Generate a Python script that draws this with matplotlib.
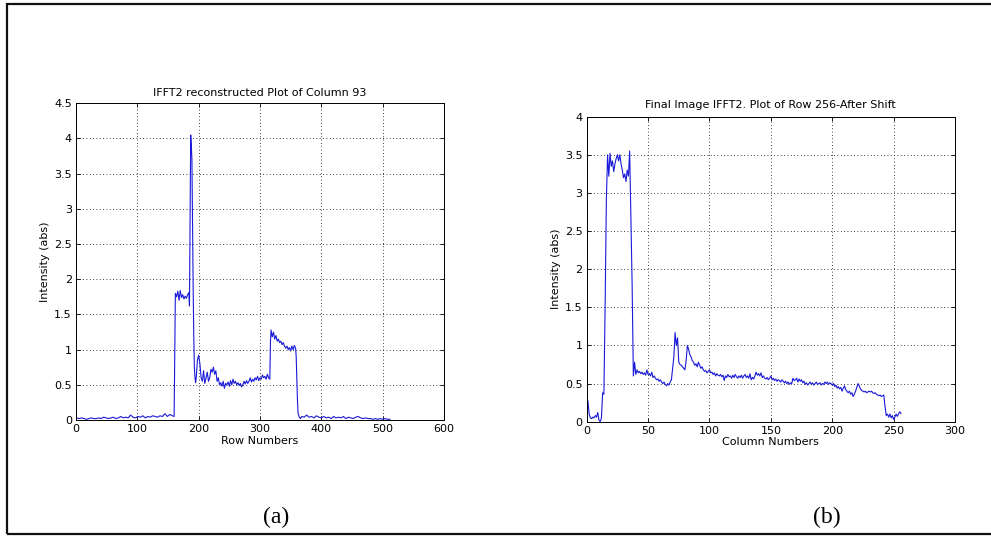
import numpy as np
import matplotlib
matplotlib.use("Agg")
import matplotlib.pyplot as plt
from matplotlib.patches import Rectangle

# ---------------- data: panel (a) ----------------
col_x = [1, 5, 9, 13, 17, 21, 25, 29, 33, 37, 41, 45, 49, 53, 57, 61, 65, 69, 73, 77,
         81, 85, 89, 93, 97, 101, 105, 109, 113, 117, 121, 125, 129, 133, 137, 141, 145,
         149, 153, 157, 160,
         162, 164, 166, 168, 170, 172, 174, 176, 178, 180, 182, 184, 185, 186, 187, 188,
         189, 190, 191, 192, 193, 194, 195, 196, 198, 200, 202, 204, 206, 208, 210, 212,
         214, 216, 218, 220, 222, 224, 226, 228, 230, 232, 234, 236, 238, 240, 242, 244,
         246, 248, 250, 252, 254, 256, 258, 260, 262, 264, 266, 268, 270, 272, 274, 276,
         278, 280, 282, 284, 286, 288, 290, 292, 294, 296, 298, 300, 302, 304, 306, 308,
         310, 312, 314, 316, 317, 318, 320, 322, 324, 326, 328, 330, 332, 334, 336, 338,
         340, 342, 344, 346, 348, 350, 352, 354, 356, 358, 359, 360, 361, 362, 364, 366,
         368, 372, 376, 380, 384, 388, 392, 396, 400, 404, 408, 412, 416, 420, 424, 428,
         432, 436, 440, 444, 448, 452, 456, 460, 464, 468, 472, 476, 480, 484, 488, 492,
         496, 500, 504, 508, 512]
col_y = [0.03, 0.02, 0.03, 0.02, 0.01, 0.02, 0.03, 0.02, 0.02, 0.03, 0.02, 0.04, 0.03,
         0.02, 0.03, 0.04, 0.02, 0.03, 0.05, 0.03, 0.04, 0.03, 0.07, 0.04, 0.03, 0.05,
         0.04, 0.06, 0.03, 0.05, 0.04, 0.06, 0.05, 0.04, 0.06, 0.05, 0.09, 0.05, 0.08,
         0.06, 0.05,
         1.80, 1.75, 1.83, 1.70, 1.84, 1.74, 1.78, 1.72, 1.76, 1.73, 1.78, 1.81, 1.62,
         2.80, 4.05, 3.90, 3.70, 2.80, 1.90, 1.20, 0.75, 0.60, 0.53, 0.60, 0.85, 0.92,
         0.80, 0.60, 0.55, 0.70, 0.52, 0.60, 0.68, 0.55, 0.60, 0.72, 0.68, 0.75, 0.65,
         0.70, 0.55, 0.60, 0.50, 0.53, 0.48, 0.55, 0.45, 0.52, 0.50, 0.54, 0.48, 0.56,
         0.50, 0.58, 0.52, 0.55, 0.50, 0.53, 0.49, 0.52, 0.47, 0.50, 0.55, 0.51, 0.56,
         0.52, 0.55, 0.60, 0.54, 0.58, 0.55, 0.60, 0.57, 0.62, 0.56, 0.60, 0.58, 0.64,
         0.60, 0.62, 0.58, 0.65, 0.60, 0.58, 1.10, 1.28, 1.18, 1.25, 1.15, 1.20, 1.12,
         1.15, 1.10, 1.12, 1.07, 1.10, 1.05, 1.02, 1.05, 1.00, 1.03, 0.98, 1.05, 1.00,
         1.06, 1.02, 0.90, 0.60, 0.30, 0.10, 0.04, 0.02, 0.05, 0.04, 0.07, 0.04, 0.05,
         0.03, 0.06, 0.04, 0.03, 0.05, 0.03, 0.04, 0.02, 0.05, 0.03, 0.04, 0.03, 0.05,
         0.02, 0.04, 0.03, 0.02, 0.04, 0.05, 0.03, 0.02, 0.03, 0.02, 0.02, 0.01, 0.02,
         0.01, 0.02, 0.01, 0.02, 0.01, 0.01]

# ---------------- data: panel (b) ----------------
row_y = [0.27, 0.10, 0.05, 0.04, 0.06, 0.05, 0.08, 0.06, 0.12, 0.02, 0.00, 0.05, 0.38, 0.36,
         1.50, 2.90, 3.50, 3.22, 3.52, 3.35, 3.42, 3.28, 3.38, 3.45, 3.50, 3.42, 3.50, 3.38,
         3.30, 3.20, 3.25, 3.15, 3.30, 3.22, 3.55, 2.70, 1.80, 0.60, 0.78, 0.62, 0.68, 0.64,
         0.66, 0.63, 0.65, 0.62, 0.64, 0.61, 0.68, 0.62, 0.63, 0.60, 0.65, 0.58, 0.60, 0.57,
         0.55, 0.56, 0.53, 0.55, 0.52, 0.50, 0.52, 0.49, 0.47, 0.50, 0.48, 0.52, 0.55, 0.70,
         0.85, 1.17, 1.00, 1.10, 0.78, 0.75, 0.74, 0.72, 0.70, 0.68, 0.80, 1.00, 0.95, 0.88,
         0.85, 0.80, 0.78, 0.74, 0.76, 0.72, 0.78, 0.74, 0.70, 0.72, 0.68, 0.66, 0.67, 0.64,
         0.66, 0.68, 0.64, 0.65, 0.62, 0.64, 0.60, 0.63, 0.61, 0.60, 0.62, 0.59, 0.61, 0.54,
         0.60, 0.58, 0.62, 0.59, 0.60, 0.57, 0.61, 0.58, 0.62, 0.59, 0.57, 0.60, 0.58, 0.61,
         0.57, 0.60, 0.62, 0.58, 0.60, 0.57, 0.63, 0.55, 0.58, 0.56, 0.60, 0.65, 0.61, 0.63,
         0.60, 0.64, 0.58, 0.60, 0.57, 0.56, 0.58, 0.55, 0.57, 0.60, 0.55, 0.57, 0.54, 0.56,
         0.53, 0.55, 0.54, 0.52, 0.55, 0.53, 0.51, 0.53, 0.50, 0.52, 0.49, 0.51, 0.50, 0.57,
         0.54, 0.55, 0.57, 0.52, 0.56, 0.53, 0.55, 0.51, 0.53, 0.49, 0.51, 0.48, 0.50, 0.52,
         0.49, 0.51, 0.48, 0.50, 0.52, 0.49, 0.50, 0.51, 0.48, 0.50, 0.49, 0.52, 0.50, 0.52,
         0.49, 0.51, 0.50, 0.48, 0.50, 0.46, 0.48, 0.44, 0.46, 0.43, 0.45, 0.40, 0.44, 0.47,
         0.42, 0.40, 0.38, 0.40, 0.36, 0.38, 0.33, 0.36, 0.40, 0.45, 0.50, 0.47, 0.43, 0.41,
         0.40, 0.39, 0.40, 0.38, 0.39, 0.40, 0.39, 0.40, 0.38, 0.37, 0.38, 0.36, 0.35, 0.34,
         0.35, 0.33, 0.34, 0.35, 0.20, 0.08, 0.10, 0.06, 0.10, 0.05, 0.08, 0.03, 0.06, 0.10,
         0.07, 0.10, 0.13, 0.11]
row_x = list(range(1, len(row_y) + 1))

titles = ["IFFT2 reconstructed Plot of Column 93",
          "Final Image IFFT2. Plot of Row 256-After Shift"]
xlabels = ["Row Numbers", "Column Numbers"]
ylabel = "Intensity (abs)"
panel_labels = ["(a)", "(b)"]
a_xticks = [0, 100, 200, 300, 400, 500, 600]
a_yticks = [0, 0.5, 1, 1.5, 2, 2.5, 3, 3.5, 4, 4.5]
b_xticks = [0, 50, 100, 150, 200, 250, 300]
b_yticks = [0, 0.5, 1, 1.5, 2, 2.5, 3, 3.5, 4]

W, H = 991, 536
fig = plt.figure(figsize=(W / 100, H / 100), dpi=100)
fig.patch.set_facecolor("white")

# outer frame of the figure
fig.add_artist(Rectangle((7 / W, 2 / H), 1.2, (532 - 4) / H + 2 / H,
                         transform=fig.transFigure, fill=False,
                         edgecolor="#111111", linewidth=1.6, clip_on=False))

FS = 8
FONT = "DejaVu Sans"
LINE_COLOR = "#1a1ad8"


def style(ax, xticks, yticks, xlim, ylim):
    ax.set_xlim(*xlim)
    ax.set_ylim(*ylim)
    ax.set_xticks(xticks)
    ax.set_yticks(yticks)
    ax.set_xticklabels([f"{t:g}" for t in xticks], fontsize=FS, family=FONT)
    ax.set_yticklabels([f"{t:g}" for t in yticks], fontsize=FS, family=FONT)
    ax.tick_params(direction="in", length=3, width=0.6, top=True, right=True,
                   pad=3, colors="black")
    ax.grid(True, color="black", linestyle=(0, (1, 3)), linewidth=0.6)
    for s in ax.spines.values():
        s.set_linewidth(0.7)
        s.set_color("black")


# panel (a)
axa = fig.add_axes([76 / W, 1 - 420 / H, (444 - 76) / W, (420 - 103.3) / H])
axa.plot(col_x, col_y, color=LINE_COLOR, linewidth=0.8)
style(axa, a_xticks, a_yticks, (0, 600), (0, 4.5))
axa.set_title(titles[0], fontsize=FS, family=FONT, pad=5)
axa.set_xlabel(xlabels[0], fontsize=FS, family=FONT, labelpad=1)
axa.set_ylabel(ylabel, fontsize=FS, family=FONT, labelpad=3)

# panel (b)
axb = fig.add_axes([586.7 / W, 1 - 421.7 / H, (955 - 586.7) / W, (421.7 - 116.7) / H])
axb.plot(row_x, row_y, color=LINE_COLOR, linewidth=0.8)
style(axb, b_xticks, b_yticks, (0, 300), (0, 4))
axb.set_title(titles[1], fontsize=FS, family=FONT, pad=6)
axb.set_xlabel(xlabels[1], fontsize=FS, family=FONT, labelpad=1)
axb.set_ylabel(ylabel, fontsize=FS, family=FONT, labelpad=3)

fig.text(276 / W, 1 - 517 / H, panel_labels[0], fontsize=17,
         family="Liberation Serif", ha="center", va="center")
fig.text(827 / W, 1 - 517 / H, panel_labels[1], fontsize=17,
         family="Liberation Serif", ha="center", va="center")

fig.savefig("out.png", dpi=100, facecolor="white")
